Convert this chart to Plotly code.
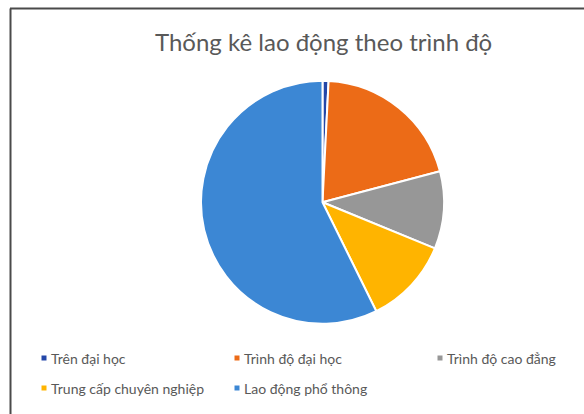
import plotly.graph_objects as go

# Workforce breakdown by qualification level (percent)
labels = [
    "Trên đại học",
    "Trình độ đại học",
    "Trình độ cao đẳng",
    "Trung cấp chuyên nghiệp",
    "Lao động phổ thông",
]
values = [0.8, 20.1, 10.3, 11.5, 57.3]
colors = ["#2447A8", "#EC6B17", "#979797", "#FFB400", "#3C87D4"]
title_text = "Thống kê lao động theo trình độ"

W, H = 584, 414
FONT = "Lato, 'Open Sans', sans-serif"
TEXT_GRAY = "#595959"


def px(x):
    return x / W


def py(y):
    return 1 - y / H


fig = go.Figure(
    go.Pie(
        labels=labels,
        values=values,
        sort=False,
        direction="clockwise",
        rotation=0,
        marker=dict(colors=colors, line=dict(color="white", width=2)),
        textinfo="none",
        showlegend=False,
        domain=dict(x=[px(201), px(444)], y=[py(324.5), py(80)]),
    )
)

shapes = [
    # chart frame (top and left edges)
    dict(type="line", xref="paper", yref="paper",
         x0=px(10), x1=1, y0=py(8.5), y1=py(8.5),
         line=dict(color="#4a4a4a", width=2)),
    dict(type="line", xref="paper", yref="paper",
         x0=px(10.5), x1=px(10.5), y0=0, y1=py(8.5),
         line=dict(color="#4a4a4a", width=2)),
]
annotations = [
    dict(text=title_text, xref="paper", yref="paper",
         x=px(323), y=py(41), xanchor="center", yanchor="middle",
         showarrow=False, font=dict(family=FONT, size=24, color=TEXT_GRAY)),
]

# legend laid out in a grid of three columns
col_x = [44, 237, 440]
row_y = [358, 388]
for i, (lab, col) in enumerate(zip(labels, colors)):
    mx = col_x[i % 3]
    my = row_y[i // 3]
    shapes.append(dict(type="rect", xref="paper", yref="paper",
                       x0=px(mx - 2.5), x1=px(mx + 2.5),
                       y0=py(my + 2.5), y1=py(my - 2.5),
                       fillcolor=col, line=dict(width=0)))
    annotations.append(dict(text=lab, xref="paper", yref="paper",
                            x=px(mx + 5), y=py(my), xanchor="left",
                            yanchor="middle", showarrow=False,
                            font=dict(family=FONT, size=14, color=TEXT_GRAY)))

fig.update_layout(
    width=W,
    height=H,
    margin=dict(l=0, r=0, t=0, b=0),
    paper_bgcolor="white",
    plot_bgcolor="white",
    shapes=shapes,
    annotations=annotations,
)

fig.write_html("out.html")
